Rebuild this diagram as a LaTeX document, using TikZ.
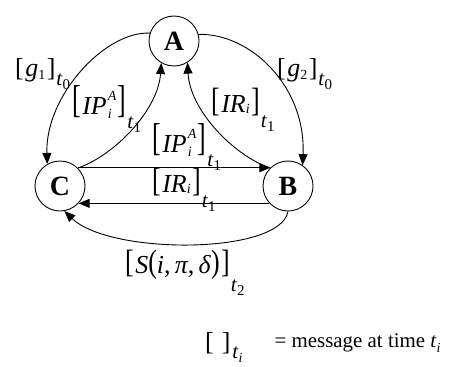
\documentclass[tikz,border=0pt]{standalone}
\usepackage{graphicx}
\usepackage{fontspec}
\setmainfont{Liberation Serif}
\usetikzlibrary{arrows.meta}
% scaled brackets and parentheses
\newcommand{\lbk}[2][0bp]{\raisebox{#1}{\scalebox{1}[#2]{[}}\hspace{1.5bp}}
\newcommand{\rbk}[2][0bp]{\hspace{1.5bp}\raisebox{#1}{\scalebox{1}[#2]{]}}}
\newcommand{\lpar}[2][0bp]{\raisebox{#1}{\scalebox{1}[#2]{(}}}
\newcommand{\rpar}[2][0bp]{\raisebox{#1}{\scalebox{1}[#2]{)}}}
% time subscript t_x lowered by #1
\newcommand{\tsub}[2]{\hspace{1bp}\raisebox{-#1}{\fontsize{21}{21}\selectfont\textit{t}\raisebox{-4bp}{\fontsize{15}{15}\selectfont #2}}}
\newcommand{\ssub}[2][-3bp]{\raisebox{#1}{\fontsize{14}{14}\selectfont #2}}
\newcommand{\idxA}{\hspace{1bp}\makebox[0pt][l]{\raisebox{-4bp}{\fontsize{14}{14}\selectfont\textit{i}}}\raisebox{14bp}{\fontsize{14}{14}\selectfont\textit{A}}}
\tikzset{
  st/.style={circle,draw,line width=0.9bp,minimum size=50bp,inner sep=0pt,font=\fontsize{28}{30}\selectfont\bfseries},
  conn/.style={line width=0.9bp,-{Triangle[length=11bp,width=9bp]}},
  lbl/.style={anchor=base west,inner sep=0pt,font=\fontsize{26}{28}\selectfont},
}
\begin{document}
\begin{tikzpicture}[x=1bp,y=1bp]
\useasboundingbox (0,0) rectangle (456,366);
\node[st] (A) at (174,325) {A};
\node[st] (C) at (60,180) {C};
\node[st] (B) at (288,180) {B};
% A -> C and A -> B
\draw[conn] (A.162) .. controls (105,335) and (45,270) .. (C.120);
\draw[conn] (A.15) .. controls (250,333) and (306,280) .. (B.55);
% C -> A and B -> A
\draw[conn] (C.45) .. controls (115,211) and (158,256) .. (A.240);
\draw[conn] (B.135) .. controls (233,211) and (190,256) .. (A.302);
% straight ones
\draw[conn] (C.46) -- (B.134);
\draw[conn] (B.223) -- (C.317);
% bottom
\draw[conn] (B.270) .. controls (280,111) and (110,111) .. (C.280);
% labels
\node[lbl] (l1) at (15,290) {\lbk{1}\textit{g}\ssub{1}\rbk{1}\tsub{9bp}{0}};
\node[lbl] (l2) at (277,290) {\lbk{1}\textit{g}\ssub{2}\rbk{1}\tsub{9bp}{0}};
\node[lbl] (l3) at (72,252) {\lbk[1.5bp]{1.5}\textit{IP}\idxA\rbk[1.5bp]{1.5}\tsub{14bp}{1}};
\node[lbl] (l4) at (211,254) {\lbk[1bp]{1.3}\textit{IR}\ssub[-1bp]{\textit{i}}\rbk[1bp]{1.3}\tsub{15bp}{1}};
\node[lbl] (l5) at (152,214) {\lbk[1.5bp]{1.5}\textit{IP}\idxA\rbk[1.5bp]{1.5}\tsub{14bp}{1}};
\node[lbl] (l6) at (152,174) {\lbk[1bp]{1.3}\textit{IR}\ssub[-1bp]{\textit{i}}\rbk[1bp]{1.3}\tsub{15bp}{1}};
\node[lbl] (l7) at (125,93) {\lbk[1bp]{1.25}\textit{S}\lpar[1bp]{1.25}\textit{i},\,\textit{π},\,\textit{δ}\rpar[1bp]{1.25}\rbk[1bp]{1.25}\tsub{18bp}{2}};
\node[lbl] (l8) at (205,19) {\raisebox{-3bp}{[}\hspace{8bp}\raisebox{-3bp}{]}\hspace{2bp}\raisebox{-11bp}{\fontsize{21}{21}\selectfont\textit{t}\raisebox{-4bp}{\fontsize{14}{14}\selectfont\textit{i}}}\hspace{32bp}{\fontsize{21}{24}\selectfont = message at time \textit{t}\raisebox{-5bp}{\fontsize{14}{14}\selectfont\textit{i}}}};
\end{tikzpicture}
\end{document}
